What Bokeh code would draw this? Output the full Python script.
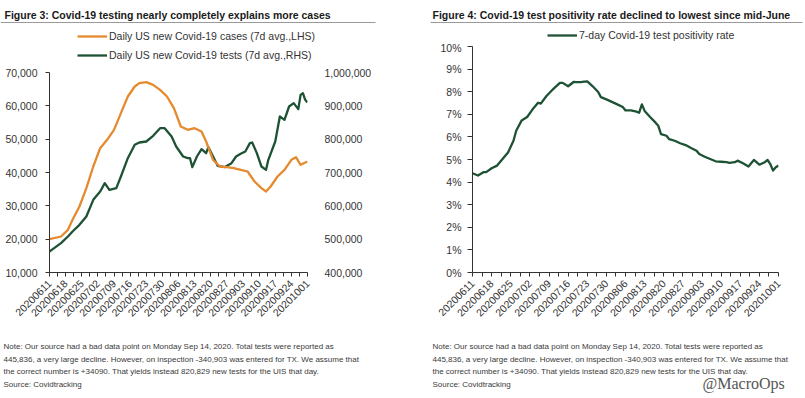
import math
import pandas as pd
from bokeh.plotting import figure
from bokeh.layouts import row, column
from bokeh.models import (Range1d, LinearAxis, FixedTicker, NumeralTickFormatter,
                          PrintfTickFormatter, DatetimeTickFormatter, Label, Legend,
                          LegendItem, BoxAnnotation)
from bokeh.embed import file_html
from bokeh.resources import INLINE

# ---------------- data ----------------
START = "2020-06-11"
tick_labels = ["20200611", "20200618", "20200625", "20200702", "20200709", "20200716",
               "20200723", "20200730", "20200806", "20200813", "20200820", "20200827",
               "20200903", "20200910", "20200917", "20200924", "20201001"]

# Figure 3: daily new cases (7d avg, LHS) - day offsets from START
cases_days = [0, 5, 8, 10, 13, 16, 19, 22, 25, 28, 31, 34, 37, 39, 42, 45, 48, 51, 54, 57,
              60, 63, 66, 68, 71, 74, 77, 80, 83, 86, 89, 92, 94, 96, 99, 102, 105, 107, 109, 112]
cases = [20000, 20800, 22800, 25800, 29800, 35300, 41800, 47300, 49800, 52800,
         57800, 62800, 65800, 66800, 67100, 66300, 64800, 62800, 59300, 53800,
         52800, 53300, 52300, 49300, 43800, 41800, 41600, 41300, 40800, 40300,
         37300, 35300, 34300, 35800, 38800, 40800, 43800, 44600, 42300, 43300]

# Figure 3: daily new tests (7d avg, RHS)
tests_days = [0, 2, 5, 8, 10, 13, 16, 19, 22, 24, 26, 29, 31, 34, 37, 39, 42, 45, 48, 50,
              53, 55, 58, 60, 61, 62, 64, 66, 68, 69, 71, 73, 76, 79, 81, 83, 85, 87, 88, 90,
              92, 94, 95, 98, 100, 102, 104, 106, 108, 109, 110, 111, 112]
tests = [463000, 473000, 488000, 508000, 523000, 543000, 568000, 618000, 643000, 668000,
         648000, 653000, 688000, 743000, 783000, 790000, 793000, 810000, 833000, 833000,
         808000, 778000, 748000, 743000, 743000, 716000, 748000, 770000, 758000, 776000,
         748000, 720000, 716000, 728000, 748000, 756000, 763000, 788000, 790000, 758000,
         718000, 708000, 738000, 793000, 868000, 858000, 898000, 908000, 890000, 933000,
         938000, 918000, 910000]

# Figure 4: 7-day test positivity rate (%)
pos_days = [0, 2, 4, 5, 7, 9, 11, 13, 15, 16, 18, 20, 22, 24, 25, 27, 29, 30, 32, 33,
            35, 37, 38, 40, 42, 44, 46, 47, 49, 51, 53, 55, 56, 58, 60, 61, 62, 63, 65, 67,
            68, 69, 71, 72, 74, 76, 78, 80, 82, 83, 85, 87, 89, 91, 93, 94, 96, 97, 99, 101,
            103, 105, 107, 108, 109, 110, 111, 112]
positivity = [4.39, 4.29, 4.44, 4.44, 4.61, 4.73, 5.02, 5.31, 5.83, 6.27,
              6.73, 6.88, 7.22, 7.51, 7.47, 7.80, 8.05, 8.17, 8.39, 8.39,
              8.24, 8.43, 8.42, 8.43, 8.46, 8.24, 7.99, 7.76, 7.66, 7.55,
              7.44, 7.32, 7.17, 7.17, 7.12, 7.07, 7.44, 7.15, 6.88, 6.63,
              6.49, 6.12, 6.05, 5.90, 5.83, 5.72, 5.64, 5.51, 5.39, 5.24,
              5.12, 5.02, 4.92, 4.90, 4.88, 4.85, 4.88, 4.95, 4.83, 4.69,
              4.98, 4.77, 4.88, 4.98, 4.80, 4.51, 4.66, 4.73]

left_ticks = [10000, 20000, 30000, 40000, 50000, 60000, 70000]
right_ticks = [400000, 500000, 600000, 700000, 800000, 900000, 1000000]
pct_ticks = [0, 1, 2, 3, 4, 5, 6, 7, 8, 9, 10]

title3 = "Figure 3: Covid-19 testing nearly completely explains more cases"
title4 = "Figure 4: Covid-19 test positivity rate declined to lowest since mid-June"
legend3 = ["Daily US new Covid-19 cases (7d avg.,LHS)", "Daily US new Covid-19 tests (7d avg.,RHS)"]
legend4 = "7-day Covid-19 test positivity rate"
notes = ["Note: Our source had a bad data point on Monday Sep 14, 2020.  Total tests were reported as",
         "445,836, a very large decline.  However, on inspection -340,903 was entered for TX.  We assume that",
         "the correct number is +34090.  That yields instead 820,829 new tests for the UIS that day.",
         "Source: Covidtracking"]
watermark = "@MacroOps"

# ---------------- style ----------------
FONT = "Liberation Sans"
ORANGE = "#E58A2E"
GREEN = "#1E5234"
TXT = "#333333"
AX = "#333333"
LW = 2.3

start = pd.Timestamp(START)


def to_dates(days):
    return start + pd.to_timedelta(days, unit="D")


def ms(ts):
    return (ts - pd.Timestamp("1970-01-01")) / pd.Timedelta(milliseconds=1)


tick_ts = pd.to_datetime(tick_labels, format="%Y%m%d")
major_ms = [ms(t) for t in tick_ts]
minor_ms = [ms(t + pd.Timedelta(hours=84)) for t in tick_ts[:-1]]
fmt = "%Y%m%d"
x0 = to_dates([0])[0]
x1 = to_dates([112])[0]


def style_plot(p):
    p.xgrid.visible = False
    p.ygrid.visible = False
    p.outline_line_color = None
    p.background_fill_color = "white"
    p.border_fill_color = "white"
    for ax in p.xaxis + p.yaxis:
        ax.axis_line_color = AX
        ax.major_tick_line_color = AX
        ax.major_tick_out = 4
        ax.major_tick_in = 0
        ax.major_label_text_font = FONT
        ax.major_label_text_font_size = "10.5px"
        ax.major_label_text_color = TXT
    p.yaxis.minor_tick_line_color = None
    xa = p.xaxis[0]
    xa.ticker = FixedTicker(ticks=major_ms, minor_ticks=minor_ms)
    xa.formatter = DatetimeTickFormatter(days=fmt, months=fmt, years=fmt, hours=fmt,
                                         hourmin=fmt)
    xa.minor_tick_line_color = AX
    xa.minor_tick_out = 4
    xa.minor_tick_in = 0
    xa.major_label_orientation = math.pi / 4
    xa.major_label_standoff = 5


def canvas(W, H):
    # a blank drawing area whose data units are pixels measured from its top-left corner
    p = figure(width=W, height=H, x_range=Range1d(0, W), y_range=Range1d(H, 0),
               x_axis_type=None, y_axis_type=None, title=None, min_border=0,
               output_backend="svg", toolbar_location=None)
    p.frame_align = False
    p.outline_line_color = None
    p.background_fill_color = "white"
    p.border_fill_color = "white"
    return p


def header(W, H, title, tx, ux0, ux1):
    h = canvas(W, H)
    h.add_layout(Label(x=tx, y=14, text=title, text_font=FONT, text_font_style="bold",
                       text_font_size="10.5px", text_color="#1a1a1a", text_baseline="middle"))
    h.add_layout(BoxAnnotation(left=ux0, right=ux1, top=21.5, bottom=22.5,
                               fill_color="#9a9a9a", fill_alpha=1, line_color=None))
    return h


def footer(W, H, nx):
    f = canvas(W, H)
    for i, t in enumerate(notes):
        f.add_layout(Label(x=nx, y=14 + 12.7 * i, text=t, text_font=FONT,
                           text_font_size="8px", text_color="#3a3a3a",
                           text_baseline="middle"))
    return f


def legend(items, loc):
    return Legend(items=items, location=loc, padding=0, margin=0, spacing=7,
                  glyph_width=30, glyph_height=12, label_height=12, label_standoff=2,
                  label_text_font=FONT, label_text_font_size="10.5px",
                  label_text_color=TXT, background_fill_alpha=0, border_line_alpha=0)


# ---------------- Figure 3 ----------------
p1 = figure(width=420, height=270, x_axis_type="datetime", output_backend="svg",
            toolbar_location=None, title=None, min_border_left=49, min_border_right=113,
            min_border_top=10, min_border_bottom=60,
            x_range=Range1d(x0, x1), y_range=Range1d(10000, 70000))
p1.frame_align = False
p1.extra_y_ranges = {"tests": Range1d(400000, 1000000)}
rax = LinearAxis(y_range_name="tests")
p1.add_layout(rax, "right")
p1.line(to_dates(tests_days), tests, y_range_name="tests", line_color=GREEN,
        line_width=LW, line_join="round")
p1.line(to_dates(cases_days), cases, line_color=ORANGE, line_width=LW, line_join="round")
style_plot(p1)
p1.yaxis[0].ticker = FixedTicker(ticks=left_ticks)
p1.yaxis[0].formatter = NumeralTickFormatter(format="0,0")
p1.yaxis[0].major_label_standoff = 8
rax.ticker = FixedTicker(ticks=right_ticks)
rax.formatter = NumeralTickFormatter(format="0,0")
rax.axis_line_color = None
rax.major_tick_line_color = None
rax.major_label_standoff = 13

h1 = header(420, 62, title3, 4, 0, 375)
# legend keys: same series, drawn outside this header's visible range
k_cases = h1.line(to_dates(cases_days), cases, line_color=ORANGE, line_width=LW)
k_tests = h1.line(to_dates(tests_days), tests, line_color=GREEN, line_width=LW)
h1.add_layout(legend([LegendItem(label=legend3[0], renderers=[k_cases]),
                      LegendItem(label=legend3[1], renderers=[k_tests])], (77, 1)))
f1 = footer(420, 66, 3)

# ---------------- Figure 4 ----------------
p2 = figure(width=385, height=291, x_axis_type="datetime", output_backend="svg",
            toolbar_location=None, title=None, min_border_left=52, min_border_right=27,
            min_border_top=5, min_border_bottom=60,
            x_range=Range1d(x0, x1), y_range=Range1d(0, 10))
p2.frame_align = False
p2.line(to_dates(pos_days), positivity, line_color=GREEN, line_width=LW, line_join="round")
style_plot(p2)
p2.yaxis[0].ticker = FixedTicker(ticks=pct_ticks)
p2.yaxis[0].formatter = PrintfTickFormatter(format="%d%%")
p2.yaxis[0].major_label_standoff = 6
p2.yaxis[0].major_tick_out = 5

h2 = header(385, 41, title4, 12, 10, 382)
k_pos = h2.line(to_dates(pos_days), positivity, line_color=GREEN, line_width=LW)
h2.add_layout(legend([LegendItem(label=legend4, renderers=[k_pos])], (127, 0)))
f2 = footer(385, 66, 12)
f2.add_layout(Label(x=282, y=51, text=watermark, text_font="Liberation Serif",
                    text_font_size="16px", text_color="#555555", text_baseline="middle",
                    background_fill_color="white", background_fill_alpha=1))

layout = row(column(h1, p1, f1), column(h2, p2, f2))
open("out.html", "w").write(file_html(layout, INLINE))
